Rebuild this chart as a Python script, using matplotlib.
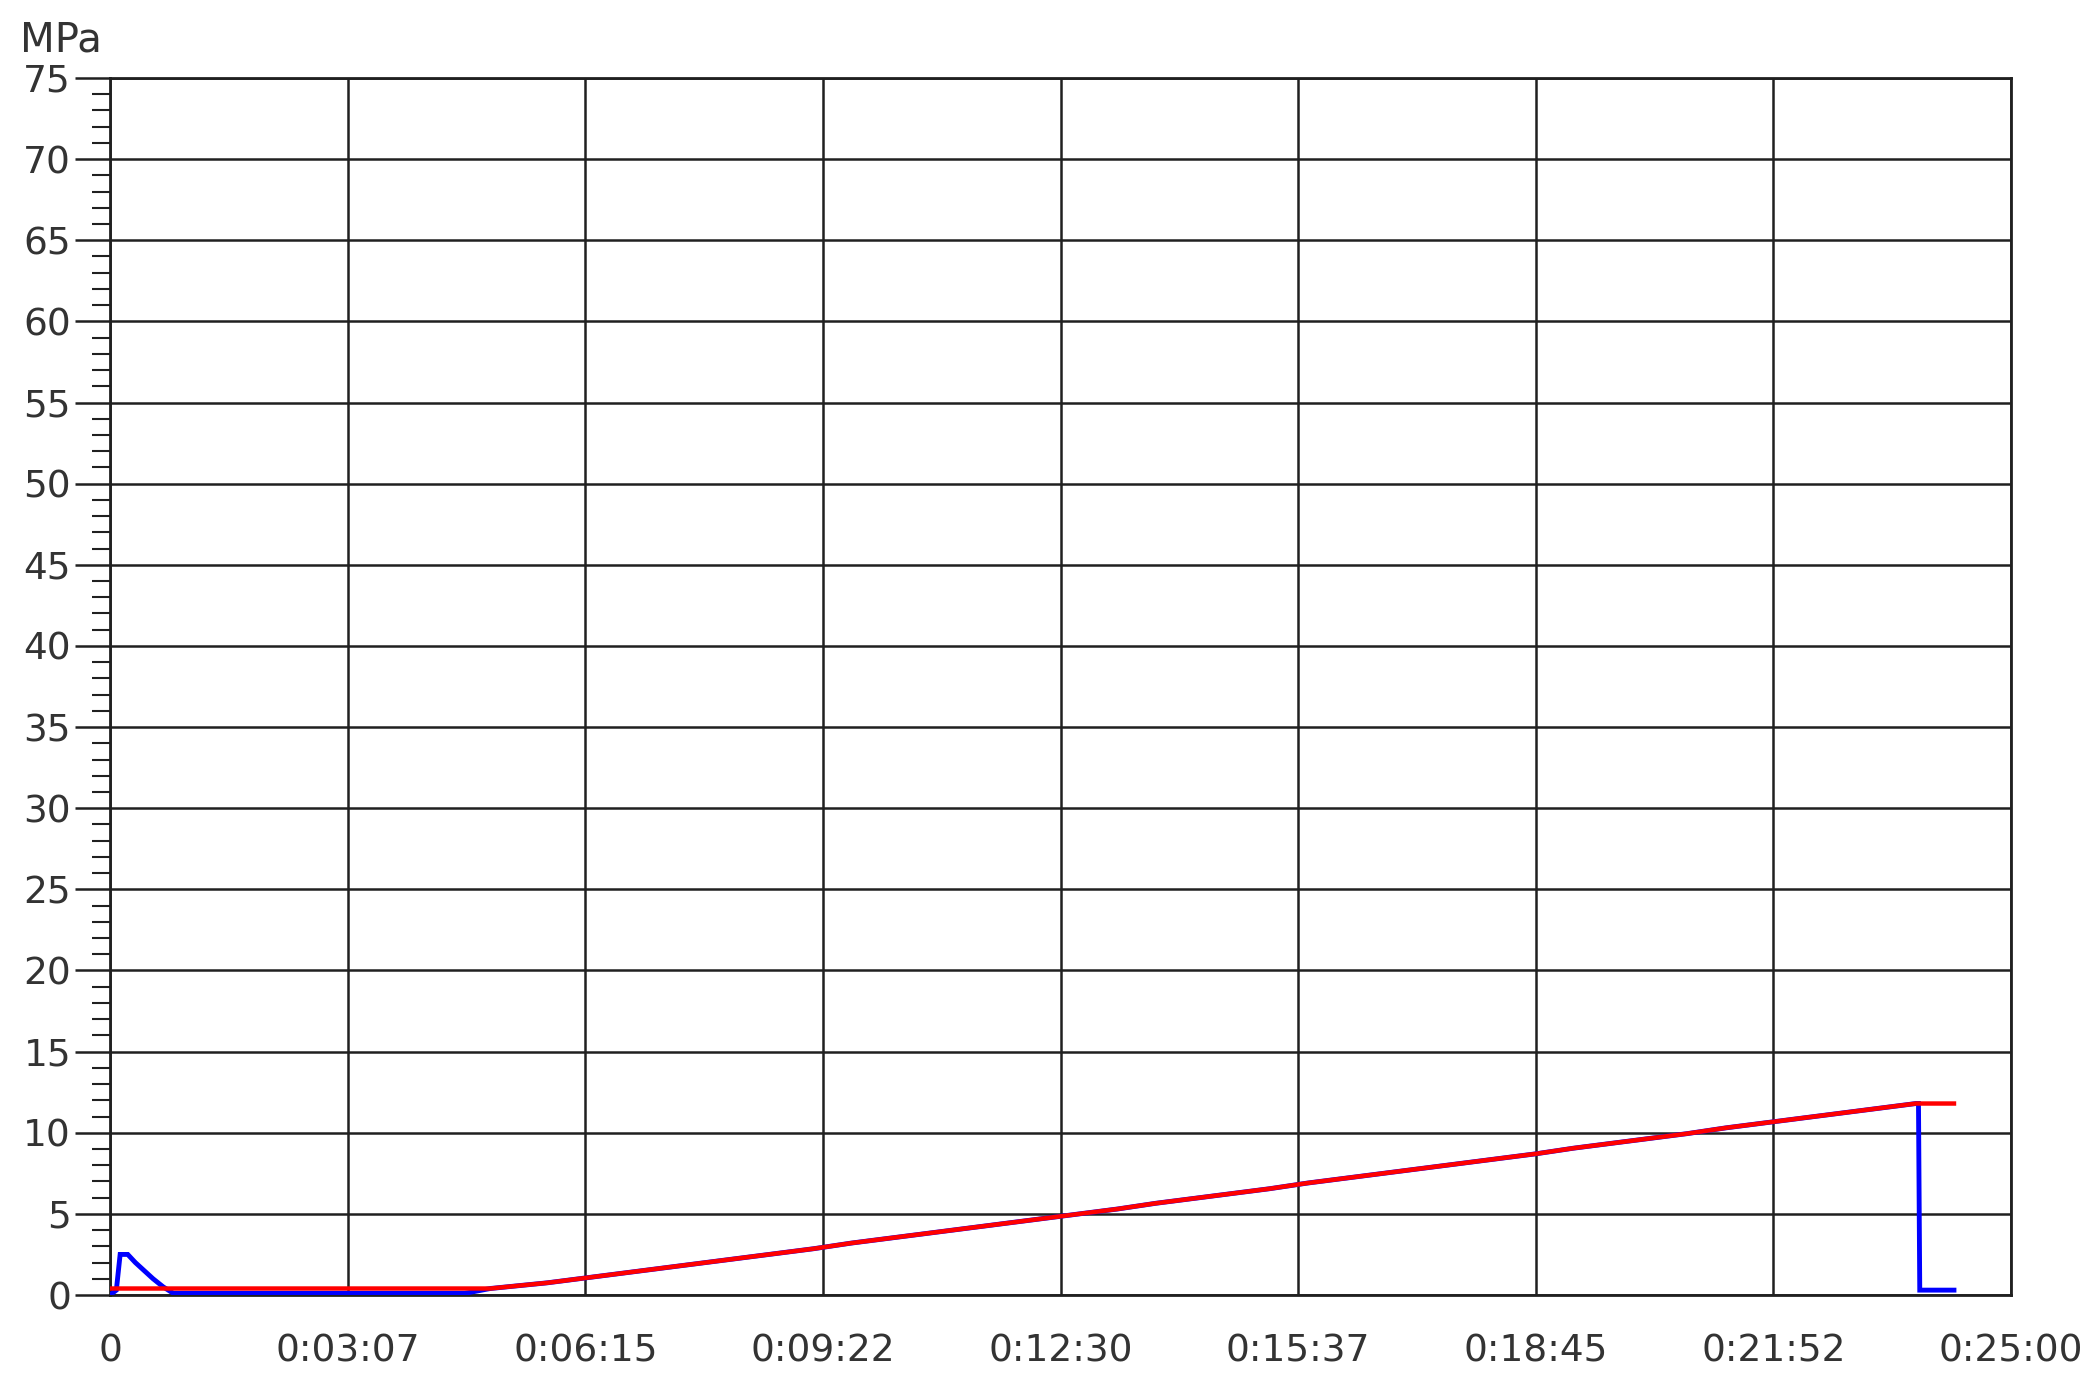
import matplotlib
matplotlib.use('Agg')
import matplotlib.pyplot as plt
from matplotlib.ticker import MultipleLocator, FixedLocator

# time axis in seconds, 0..25 min
x_ticks = [0, 187.5, 375, 562.5, 750, 937.5, 1125, 1312.5, 1500]
x_labels = ['0', '0:03:07', '0:06:15', '0:09:22', '0:12:30',
            '0:15:37', '0:18:45', '0:21:52', '0:25:00']

# red trace (set value)
red_t = [0, 300, 345, 375, 405, 435, 465, 495, 525, 555, 585, 615, 645, 675,
         705, 735, 765, 795, 825, 855, 885, 915, 945, 975, 1005, 1035, 1065,
         1095, 1125, 1155, 1185, 1215, 1245, 1275, 1305, 1335, 1365, 1395,
         1425, 1455]
red_v = [0.4, 0.4, 0.75, 1.05, 1.35, 1.65, 1.95, 2.25, 2.55, 2.85, 3.2, 3.5,
         3.8, 4.1, 4.4, 4.7, 5.0, 5.3, 5.65, 5.95, 6.25, 6.55, 6.9, 7.2, 7.5,
         7.8, 8.1, 8.4, 8.7, 9.05, 9.35, 9.65, 9.95, 10.3, 10.6, 10.9, 11.2,
         11.5, 11.8, 11.8]

# blue trace (measured), start bump and end drop
blue_start_t = [0, 5, 8, 14, 20, 27, 34, 42, 50, 280]
blue_start_v = [0.0, 0.3, 2.5, 2.5, 2.0, 1.5, 1.0, 0.5, 0.1, 0.1]
blue_end_t = [1427, 1428, 1455]
blue_end_v = [11.8, 0.3, 0.3]

blue_t = blue_start_t + red_t[1:-1] + blue_end_t
blue_v = blue_start_v + red_v[1:-1] + blue_end_v

fig = plt.figure(figsize=(21, 13.9), dpi=100)
ax = fig.add_axes([110/2100, 1 - 1295/1390, (2011-110)/2100, (1295-78)/1390])

ax.plot(blue_t, blue_v, color='#0000ff', lw=3.5, solid_joinstyle='miter',
        zorder=3)
ax.plot(red_t, red_v, color='#ff0000', lw=3.2, zorder=4)

ax.set_xlim(0, 1500)
ax.set_ylim(0, 75)
ax.xaxis.set_major_locator(FixedLocator(x_ticks))
ax.set_xticklabels(x_labels)
ax.yaxis.set_major_locator(MultipleLocator(5))
ax.yaxis.set_minor_locator(MultipleLocator(1))

ax.grid(True, which='major', color='#202020', lw=1.8)
ax.set_axisbelow(True)
for s in ax.spines.values():
    s.set_color('#202020')
    s.set_linewidth(2.0)

ax.tick_params(axis='x', length=0, pad=28, labelsize=27, labelcolor='#333333')
ax.tick_params(axis='y', which='major', direction='out', length=25, width=1.8,
               color='#202020', pad=3, labelsize=27, labelcolor='#333333')
ax.tick_params(axis='y', which='minor', direction='out', length=13, width=1.5,
               color='#202020')

fig.text(20/2100, 1 - 40/1390, 'MPa', fontsize=29, color='#333333',
         ha='left', va='center')

fig.savefig('out.png', dpi=100, facecolor='white')
